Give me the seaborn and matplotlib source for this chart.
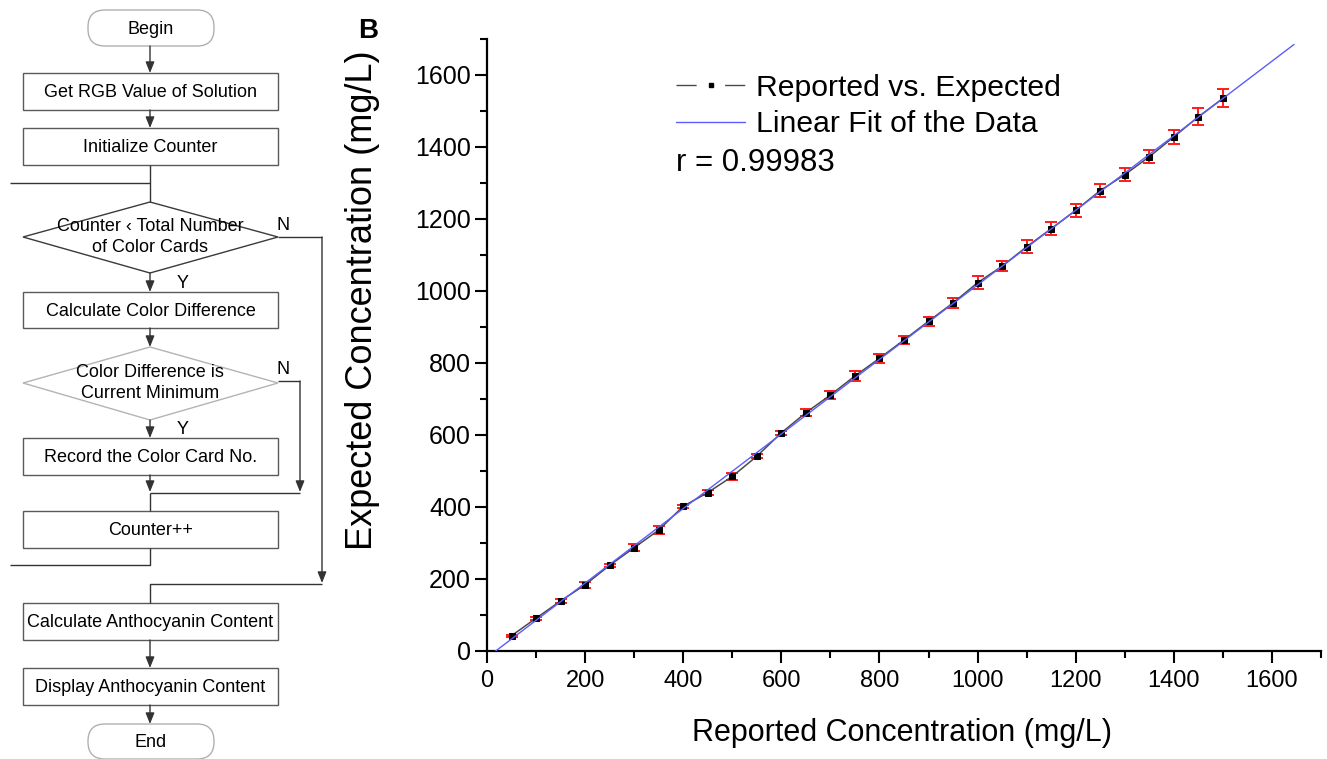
import numpy as np
import pandas as pd
import matplotlib
matplotlib.use("Agg")
import matplotlib.pyplot as plt
import seaborn as sns
from matplotlib.patches import FancyBboxPatch, Rectangle, Polygon
from matplotlib.lines import Line2D
from matplotlib.ticker import MultipleLocator

# ---------------- data ----------------
reported = [50, 100, 150, 200, 250, 300, 350, 400, 450, 500,
            550, 600, 650, 700, 750, 800, 850, 900, 950, 1000,
            1050, 1100, 1150, 1200, 1250, 1300, 1350, 1400, 1450, 1500]
expected = [42.5, 91, 139, 184, 238, 287, 336, 402, 440, 485,
            541, 606, 662, 711, 764, 813, 864, 916, 967, 1023,
            1069, 1123, 1173, 1224, 1279, 1323, 1373, 1428, 1484, 1535]
expected_err = [3, 4, 5, 9, 5, 10, 12, 4, 6, 10,
                6, 5, 10, 11, 13, 12.5, 11.6, 13, 14, 17.6,
                13, 17.6, 18, 18, 19, 17.6, 18.5, 19, 24, 25]
fit_x_range = [0, 1645]
x_ticks = [0, 200, 400, 600, 800, 1000, 1200, 1400, 1600]
y_ticks = [0, 200, 400, 600, 800, 1000, 1200, 1400, 1600]
series_labels = ["Reported vs. Expected", "Linear Fit of the Data"]
r_label = "r = 0.99983"
x_label = "Reported Concentration (mg/L)"
y_label = "Expected Concentration (mg/L)"
panel_label = "B"

flow_terminals = ["Begin", "End"]
flow_boxes = ["Get RGB Value of Solution", "Initialize Counter",
              "Calculate Color Difference", "Record the Color Card No.",
              "Counter++", "Calculate Anthocyanin Content",
              "Display Anthocyanin Content"]
flow_decisions = ["Counter \u2039 Total Number\nof Color Cards",
                  "Color Difference is\nCurrent Minimum"]
branch_yes, branch_no = "Y", "N"

# ---------------- style ----------------
sns.set_theme(style="ticks")
plt.rcParams["font.family"] = ["Liberation Sans", "DejaVu Sans"]
for k in ["text.color", "axes.labelcolor", "xtick.color", "ytick.color", "axes.edgecolor"]:
    plt.rcParams[k] = "black"

W, H = 1327, 759
fig = plt.figure(figsize=(W / 100, H / 100), dpi=100)
fig.patch.set_facecolor("white")

# overlay in pixel coordinates for flowchart
ov = fig.add_axes([0, 0, 1, 1])
ov.set_xlim(0, W)
ov.set_ylim(H, 0)
ov.axis("off")

LC = "#333333"
BC = "#5a5a5a"
FS = 13


def arrow(x0, y0, x1, y1):
    ov.annotate("", xy=(x1, y1), xytext=(x0, y0),
                arrowprops=dict(arrowstyle="-|>,head_length=0.55,head_width=0.22",
                                color=LC, lw=1, shrinkA=0, shrinkB=0))


def line(xs, ys):
    ov.plot(xs, ys, color=LC, lw=1, solid_capstyle="butt")


def box(y0, y1, text):
    ov.add_patch(Rectangle((23, y0), 255, y1 - y0, fill=False, ec=BC, lw=1))
    ov.text(150.5, (y0 + y1) / 2 + 1, text, ha="center", va="center", fontsize=FS, color="black")


def pill(y0, y1, text):
    ov.add_patch(FancyBboxPatch((88, y0), 126, y1 - y0,
                                boxstyle="round,pad=0,rounding_size=17",
                                fill=False, ec="#b0b0b0", lw=1))
    ov.text(151, (y0 + y1) / 2 + 1, text, ha="center", va="center", fontsize=FS, color="black")


def diamond(ytop, ymid, ybot, text, ec):
    ov.add_patch(Polygon([(150, ytop), (278, ymid), (150, ybot), (23, ymid)],
                         closed=True, fill=False, ec=ec, lw=1))
    ov.text(150, ymid, text, ha="center", va="center", fontsize=FS,
            color="black", linespacing=1.25)


pill(10, 46, flow_terminals[0])
arrow(150, 46, 150, 73)
box(73, 110, flow_boxes[0])
arrow(150, 110, 150, 128)
box(128, 165, flow_boxes[1])
line([150, 150], [165, 202])
line([10, 150], [183, 183])
diamond(202, 237, 273, flow_decisions[0], "#3a3a3a")
ov.text(283, 226, branch_no, ha="center", va="center", fontsize=FS)
line([278, 322], [237, 237])
arrow(322, 237, 322, 583)
line([322, 150, 150], [584, 584, 603])
ov.text(183, 283, branch_yes, ha="center", va="center", fontsize=FS)
arrow(150, 273, 150, 292)
box(292, 328, flow_boxes[2])
arrow(150, 328, 150, 347)
diamond(347, 383, 420, flow_decisions[1], "#b4b4b4")
ov.text(283, 369, branch_no, ha="center", va="center", fontsize=FS)
line([278, 300], [381, 381])
arrow(300, 381, 300, 492)
ov.text(183, 430, branch_yes, ha="center", va="center", fontsize=FS)
arrow(150, 420, 150, 438)
box(438, 475, flow_boxes[3])
arrow(150, 475, 150, 492)
line([150, 300], [493, 493])
line([150, 150], [493, 511])
box(511, 548, flow_boxes[4])
line([150, 150, 10], [548, 565, 565])
box(603, 640, flow_boxes[5])
arrow(150, 640, 150, 668)
box(668, 705, flow_boxes[6])
arrow(150, 705, 150, 724)
pill(724, 759, flow_terminals[1])

ov.text(368, 31, panel_label, ha="center", va="center", fontsize=20, fontweight="bold")

# ---------------- scatter / fit panel ----------------
left, right, bottom, top = 487, 1321, 651, 39
ax = fig.add_axes([left / W, 1 - bottom / H, (right - left) / W, (bottom - top) / H])
ax.set_facecolor("none")

df = pd.DataFrame({"reported": reported, "expected": expected, "err": expected_err})

ax.errorbar(df["reported"], df["expected"], yerr=df["err"], fmt="none",
            ecolor="#ff1a1a", elinewidth=1.4, capsize=4.5, capthick=1.4, zorder=2)
sns.lineplot(data=df, x="reported", y="expected", ax=ax, color="#4a4a4a", lw=1.1,
             marker="s", markersize=3.8, markerfacecolor="black", markeredgecolor="black",
             zorder=3, legend=False)

slope, intercept = np.polyfit(df["reported"], df["expected"], 1)
fit_x = np.array(fit_x_range, dtype=float)
fit_df = pd.DataFrame({"x": fit_x, "y": slope * fit_x + intercept})
sns.lineplot(data=fit_df, x="x", y="y", ax=ax, color="#5c5cff", lw=1.0, zorder=4, legend=False)

ax.set_xlim(0, 1700)
ax.set_ylim(0, 1700)
ax.set_xticks(x_ticks)
ax.set_yticks(y_ticks)
ax.xaxis.set_minor_locator(MultipleLocator(100))
ax.yaxis.set_minor_locator(MultipleLocator(100))
sns.despine(ax=ax)
for s in ["left", "bottom"]:
    ax.spines[s].set_linewidth(1.6)
    ax.spines[s].set_color("black")
ax.tick_params(axis="both", which="major", direction="out", length=8.5, width=1.5,
               color="black", labelcolor="black")
ax.tick_params(axis="y", which="major", pad=3, labelsize=18)
ax.tick_params(axis="x", which="major", pad=5, labelsize=17)
ax.tick_params(axis="both", which="minor", direction="out", length=5, width=1.5, color="black")

ax.set_xlabel(x_label, fontsize=22, color="black")
ax.set_ylabel(y_label, fontsize=26, color="black")
ax.xaxis.set_label_coords((902 - left) / (right - left), (bottom - 733) / (bottom - top))
ax.xaxis.label.set_va("center")
ax.yaxis.set_label_coords((362 - left) / (right - left), (bottom - 300) / (bottom - top))
ax.yaxis.label.set_va("center")
ax.yaxis.label.set_ha("center")

handles = [Line2D([], [], color="#4a4a4a", lw=1.0, dashes=(14.5, 20.5), marker="s", markersize=3.2,
                  markerfacecolor="black", markeredgecolor="black"),
           Line2D([], [], color="#5c5cff", lw=1.0)]
leg = ax.legend(handles, series_labels, loc="upper left",
                bbox_to_anchor=(676 / W, 1 - 74 / H), bbox_transform=fig.transFigure,
                frameon=False, fontsize=21.7, handlelength=2.3, handletextpad=0.35,
                borderpad=0, borderaxespad=0, labelspacing=0.28)
for t in leg.get_texts():
    t.set_color("black")
fig.text(676 / W, 1 - 163 / H, r_label, ha="left", va="center", fontsize=22.5, color="black")

fig.savefig("out.png", dpi=100, facecolor="white")
